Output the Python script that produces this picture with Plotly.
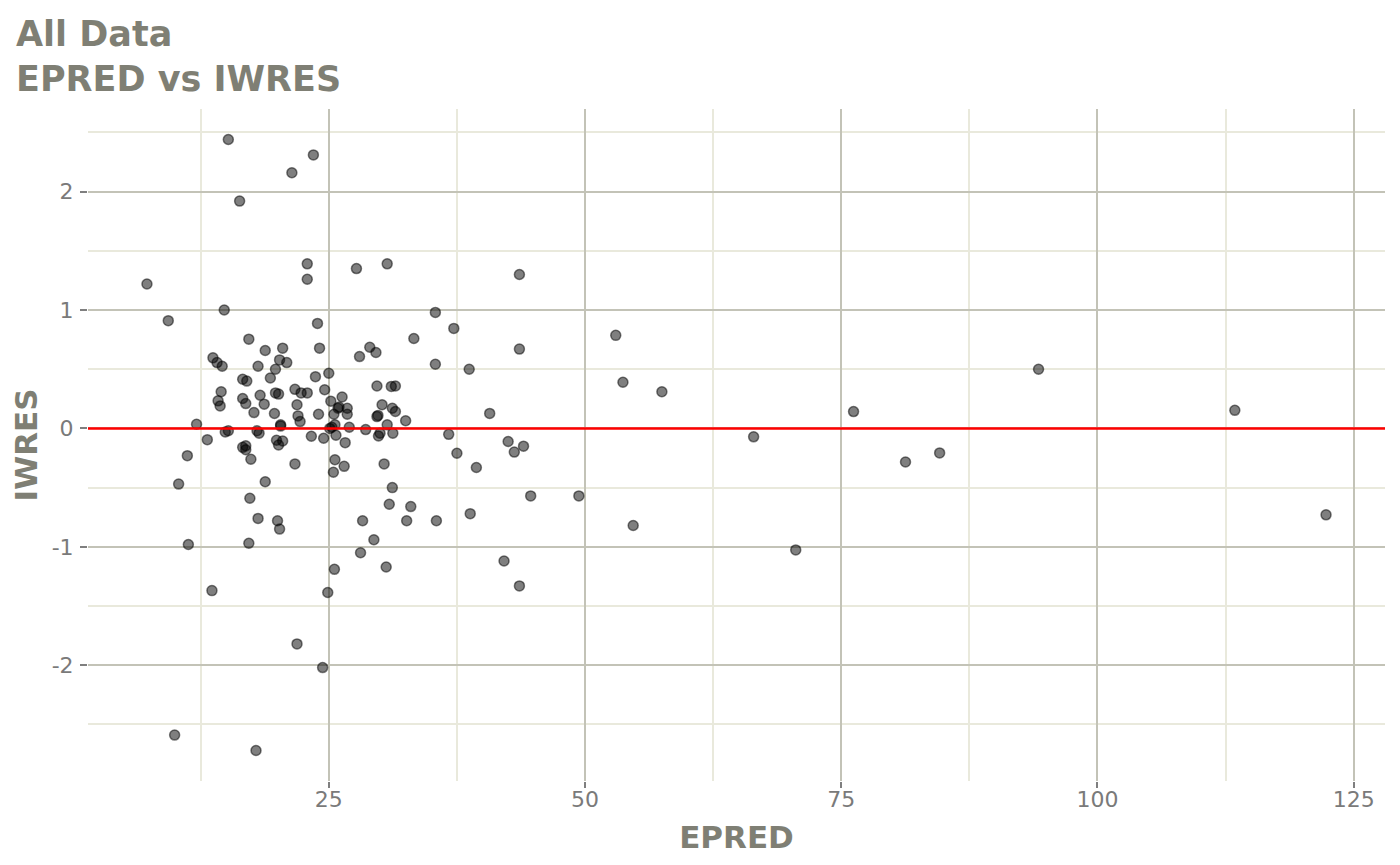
import numpy as np
import plotly.graph_objects as go

# EPRED / IWRES pairs
epred = [
    15.2, 23.5, 21.4, 16.3, 22.9, 22.9, 27.7, 30.7, 7.26, 14.8,
    9.34, 35.4, 37.2, 23.9, 33.3, 17.2, 24.1, 20.5, 18.8, 29.0,
    29.6, 28.0, 13.7, 14.1, 14.6, 20.2, 20.9, 18.1, 35.4, 25.0,
    23.7, 19.8, 19.3, 16.6, 17.0, 29.7, 31.1, 31.5, 14.5, 18.3,
    21.7, 19.8, 20.1, 22.3, 22.9, 24.6, 26.3, 14.2, 14.4, 16.6,
    16.9, 18.7, 21.9, 25.2, 30.2, 17.7, 19.7, 24.0, 25.5, 25.9,
    26.0, 26.8, 26.8, 29.8, 29.7, 31.2, 31.5, 32.5, 12.1, 22.0,
    22.2, 20.3, 20.3, 14.9, 15.2, 18.0, 18.2, 25.1, 25.3, 25.6,
    27.0, 28.6, 30.7, 29.85, 30.0, 31.25, 36.7, 37.5, 13.15, 11.2,
    10.35, 23.3, 24.5, 25.7, 26.6, 19.9, 20.1, 20.5, 16.6, 16.9,
    16.9, 17.4, 21.7, 25.6, 26.5, 25.45, 30.4, 18.8, 17.3, 31.2,
    30.9, 33.0, 18.1, 20.0, 20.2, 28.3, 32.6, 35.5, 29.4, 28.1,
    11.3, 17.2, 25.55, 30.6, 13.6, 24.9, 21.9, 24.4, 9.96, 17.9,
    43.6, 43.6, 38.7, 53.0, 53.7, 57.5, 40.7, 39.4, 42.5, 44.0,
    43.1, 44.7, 49.4, 38.8, 54.7, 42.1, 43.6, 66.45, 70.56, 76.2,
    81.27, 84.6, 94.25, 113.4, 122.3,
]
iwres = [
    2.44, 2.31, 2.16, 1.92, 1.39, 1.26, 1.35, 1.39, 1.22, 1.00,
    0.91, 0.98, 0.845, 0.887, 0.76, 0.754, 0.678, 0.678, 0.658, 0.686,
    0.641, 0.607, 0.596, 0.556, 0.525, 0.579, 0.556, 0.525, 0.542, 0.466,
    0.437, 0.50, 0.426, 0.415, 0.40, 0.358, 0.355, 0.358, 0.31, 0.28,
    0.33, 0.30, 0.29, 0.30, 0.30, 0.327, 0.265, 0.233, 0.19, 0.253,
    0.21, 0.205, 0.20, 0.23, 0.20, 0.134, 0.126, 0.12, 0.12, 0.17,
    0.18, 0.17, 0.12, 0.11, 0.10, 0.17, 0.143, 0.065, 0.035, 0.106,
    0.058, 0.03, 0.02, -0.03, -0.02, -0.02, -0.04, 0.0, 0.01, 0.03,
    0.01, -0.01, 0.03, -0.064, -0.04, -0.04, -0.05, -0.21, -0.095, -0.23,
    -0.47, -0.066, -0.083, -0.058, -0.12, -0.10, -0.14, -0.106, -0.16, -0.147,
    -0.18, -0.26, -0.30, -0.265, -0.32, -0.37, -0.30, -0.45, -0.59, -0.50,
    -0.64, -0.66, -0.76, -0.78, -0.85, -0.78, -0.78, -0.78, -0.94, -1.05,
    -0.98, -0.97, -1.19, -1.17, -1.37, -1.386, -1.82, -2.02, -2.59, -2.72,
    1.30, 0.67, 0.50, 0.786, 0.39, 0.31, 0.127, -0.33, -0.11, -0.15,
    -0.20, -0.57, -0.57, -0.72, -0.82, -1.12, -1.33, -0.071, -1.026, 0.142,
    -0.284, -0.207, 0.50, 0.153, -0.73,
]

x_tick_vals = [25, 50, 75, 100, 125]
x_tick_text = ["25", "50", "75", "100", "125"]
y_tick_vals = [-2, -1, 0, 1, 2]
y_tick_text = ["-2", "-1", "0", "1", "2"]

title_text = "All Data<br>EPRED vs IWRES"
x_label = "EPRED"
y_label = "IWRES"

TEXT_GREY = "#7f7f74"
MAJOR_GRID = "#c3c3b7"
MINOR_GRID = "#e9e9dc"

# the page body adds an 8px margin, so the figure is 16px smaller
FIG_W, FIG_H = 1384, 849


def expand(vals, frac=0.05):
    lo, hi = float(np.min(vals)), float(np.max(vals))
    pad = (hi - lo) * frac
    return [lo - pad, hi + pad]


fig = go.Figure()

fig.add_trace(
    go.Scatter(
        x=epred,
        y=iwres,
        mode="markers",
        marker=dict(
            size=10,
            color="rgba(0,0,0,0.5)",
            line=dict(color="rgba(0,0,0,0.5)", width=1.5),
        ),
        hoverinfo="x+y",
        showlegend=False,
    )
)

# reference line at zero residual
fig.add_shape(
    type="line", xref="paper", x0=0, x1=1, yref="y", y0=0, y1=0,
    line=dict(color="#ff0000", width=2.5), layer="above",
)

axis_common = dict(
    showline=False,
    zeroline=False,
    ticks="outside",
    tickcolor="#7f7f7f",
    tickwidth=1.5,
    gridcolor=MAJOR_GRID,
    gridwidth=2,
    tickfont=dict(family="DejaVu Sans", size=22, color="#7a7a7a"),
)

fig.update_xaxes(
    range=expand(epred),
    tickmode="array", tickvals=x_tick_vals, ticktext=x_tick_text,
    ticklen=6,
    ticklabelstandoff=-7,
    minor=dict(showgrid=True, gridcolor=MINOR_GRID, gridwidth=2, dtick=12.5, tick0=0),
    title=dict(text=x_label, standoff=14,
               font=dict(family="DejaVu Sans", size=31, color=TEXT_GREY, weight="bold")),
    **axis_common,
)
fig.update_yaxes(
    range=expand(iwres),
    tickmode="array", tickvals=y_tick_vals, ticktext=y_tick_text,
    ticklen=7,
    ticklabelstandoff=2,
    minor=dict(showgrid=True, gridcolor=MINOR_GRID, gridwidth=2, dtick=0.5, tick0=0),
    title=dict(text=y_label, standoff=6,
               font=dict(family="DejaVu Sans", size=31, color=TEXT_GREY, weight="bold")),
    **axis_common,
)

fig.update_layout(
    width=FIG_W,
    height=FIG_H,
    margin=dict(l=80, r=7, t=101, b=76, autoexpand=False),
    paper_bgcolor="white",
    plot_bgcolor="white",
    title=dict(
        text=title_text,
        xref="container", yref="container",
        x=8 / FIG_W, xanchor="left",
        y=1 - 37.5 / FIG_H, yanchor="top",
        font=dict(family="DejaVu Sans", size=35, color=TEXT_GREY, weight="bold"),
    ),
)

fig.write_html("out.html")
